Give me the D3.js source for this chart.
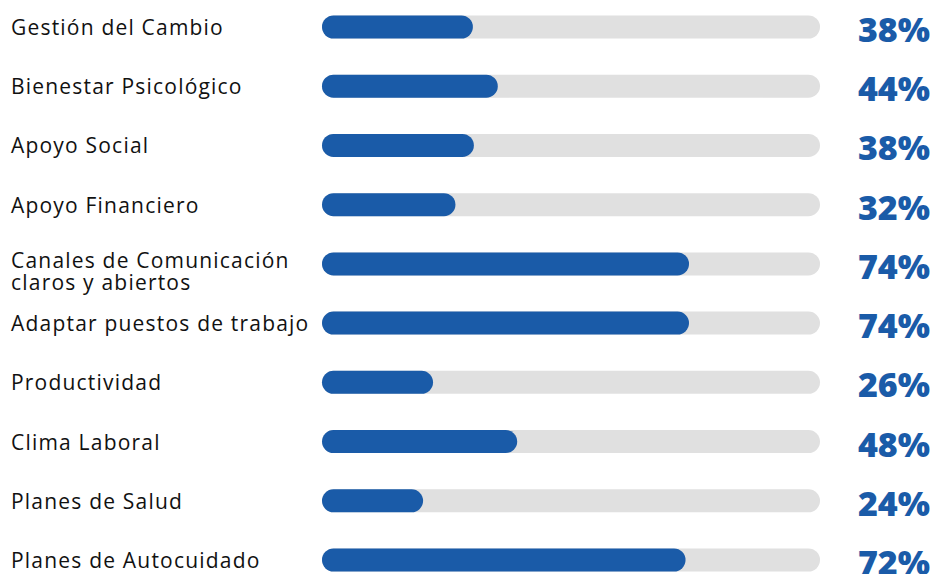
<!DOCTYPE html>
<html>
<head>
<meta charset="utf-8">
<script src="https://cdn.jsdelivr.net/npm/d3@7"></script>
<style>
  body { margin: 0; background: #fff; }
  .label { font-family: "Open Sans", sans-serif; font-weight: 500; font-size: 21px; letter-spacing: 1.2px; fill: #111; }
  .pct { font-family: "Open Sans", sans-serif; font-weight: 800; font-size: 34px; fill: #1a5ba8; }
</style>
</head>
<body>
<div id="chart"></div>
<script>
// categories (top to bottom), "\n" marks a line break
var categories = [
  "Gestión del Cambio",
  "Bienestar Psicológico",
  "Apoyo Social",
  "Apoyo Financiero",
  "Canales de Comunicación\nclaros y abiertos",
  "Adaptar puestos de trabajo",
  "Productividad",
  "Clima Laboral",
  "Planes de Salud",
  "Planes de Autocuidado"
];

// printed percentages
var pctLabels = [38, 44, 38, 32, 74, 74, 26, 48, 24, 72];

// bar fill as drawn in the picture (% of the grey track)
var barShown = [30.3, 35.3, 30.5, 26.8, 73.7, 73.7, 22.3, 39.2, 20.3, 73.0];

// SVG wrapper dimensions
var svgWidth = 935;
var svgHeight = 574;

var svg = d3.select("#chart")
  .append("svg")
  .attr("width", svgWidth)
  .attr("height", svgHeight);

var trackLeft = 322;
var trackRight = 820;
var barH = 23;

var xScale = d3.scaleLinear()
  .domain([0, 100])
  .range([trackLeft, trackRight]);

var yScale = d3.scalePoint()
  .domain(categories)
  .range([27, 560]);

var rows = categories.map(function(c, i) {
  return { cat: c, pct: pctLabels[i], shown: barShown[i] };
});

var rowGroup = svg.selectAll("g.row")
  .data(rows)
  .enter()
  .append("g")
  .attr("class", "row")
  .attr("transform", d => `translate(0, ${yScale(d.cat)})`);

// grey track
rowGroup.append("rect")
  .attr("x", xScale(0))
  .attr("y", -barH / 2)
  .attr("width", xScale(100) - xScale(0))
  .attr("height", barH)
  .attr("rx", barH / 2)
  .attr("fill", "#e0e0e0");

// blue bar
rowGroup.append("rect")
  .attr("x", xScale(0))
  .attr("y", -barH / 2)
  .attr("width", d => xScale(d.shown) - xScale(0))
  .attr("height", barH)
  .attr("rx", barH / 2)
  .attr("fill", "#1a5ba8");

// category labels
var labels = rowGroup.append("text")
  .attr("class", "label")
  .attr("x", 11)
  .attr("y", d => d.cat.indexOf("\n") >= 0 ? 4 : 8);

labels.selectAll("tspan")
  .data(d => d.cat.split("\n"))
  .enter()
  .append("tspan")
  .attr("x", 11)
  .attr("dy", (d, i) => i === 0 ? 0 : 22)
  .text(d => d);

// percentages
rowGroup.append("text")
  .attr("class", "pct")
  .attr("x", 930)
  .attr("y", 15)
  .attr("text-anchor", "end")
  .text(d => d.pct + "%");
</script>
</body>
</html>
